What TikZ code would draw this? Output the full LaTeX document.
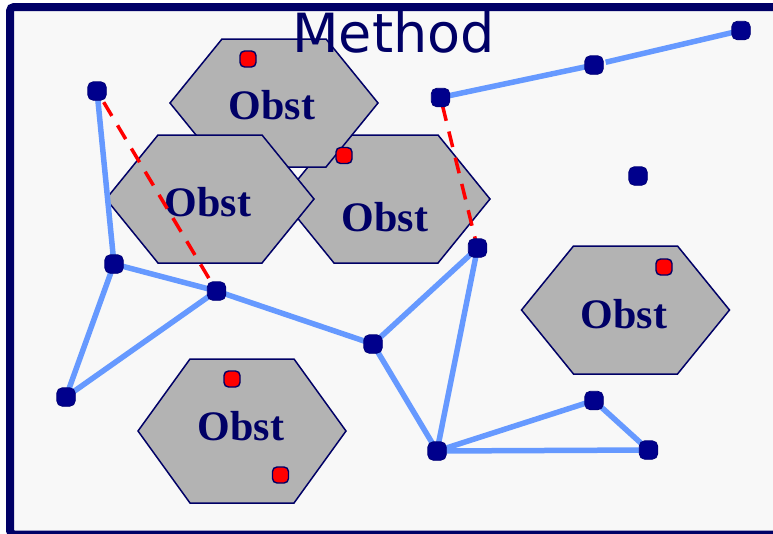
\documentclass[tikz,border=0pt]{standalone}
\usepackage{fontspec}
\newfontfamily\titlefont{DejaVu Sans}
\newfontfamily\obstfont{Liberation Serif}
\definecolor{framenavy}{RGB}{0,0,102}
\definecolor{nodenavy}{RGB}{0,0,140}
\definecolor{edgeblue}{RGB}{102,153,255}
\definecolor{obstgray}{RGB}{179,179,179}
\definecolor{paper}{RGB}{248,248,248}
\tikzset{
  obstacle/.style={fill=obstgray, draw=framenavy, line width=1.5pt, line join=miter},
  obstlabel/.style={anchor=base, inner sep=0pt, text=framenavy, font=\obstfont\bfseries\fontsize{42}{42}\selectfont},
  waypoint/.style={rectangle, rounded corners=5.5pt, minimum size=18.5pt, inner sep=0pt, fill=nodenavy, draw=nodenavy!85!black, line width=0.8pt},
  goalmark/.style={rectangle, rounded corners=4.5pt, minimum size=16pt, inner sep=0pt, fill=red, draw=framenavy, line width=1.4pt},
  link/.style={edgeblue, line width=5.5pt},
  blocked/.style={red, line width=3.5pt, dash pattern=on 16pt off 11pt},
}
% flat-topped hexagon: centre (#1,#2), half-width 104, half-height #3
\newcommand\obsthex[3]{%
  \draw[obstacle, shift={(#1,#2)}] (-104,0) -- (-52,-#3) -- (52,-#3) -- (104,0) -- (52,#3) -- (-52,#3) -- cycle;}
\begin{document}
\begin{tikzpicture}[x=1pt, y=-1pt]
\useasboundingbox (0,0) rectangle (773,533);
% frame
\fill[white] (0,0) rectangle (773,533);
\draw[framenavy, fill=paper, line width=8pt, rounded corners=4pt] (10,7) rectangle (790,534.5);

% obstacles (stacking order matters where they overlap)
\obsthex{386}{199}{64}
\obsthex{274}{103}{64}
\obsthex{210}{199}{64}
\obsthex{625.5}{310}{64}
\obsthex{242}{431}{72}
\node[obstlabel] (t1) at (272,119) {Obst};
\node[obstlabel] (t2) at (208,216) {Obst};
\node[obstlabel] (t3) at (385,231) {Obst};
\node[obstlabel] (t4) at (624,328) {Obst};
\node[obstlabel] (t5) at (241,440) {Obst};

% goal markers
\node[goalmark] (r1) at (248,59) {};
\node[goalmark] (r2) at (344,155.5) {};
\node[goalmark] (r3) at (232,379) {};
\node[goalmark] (r4) at (280.5,475) {};
\node[goalmark] (r5) at (664,267) {};

% waypoints
\coordinate (pA) at (97,91);
\coordinate (pB) at (114,264);
\coordinate (pC) at (216.5,291);
\coordinate (pD) at (66,397);
\coordinate (pE) at (373,344);
\coordinate (pF) at (477.5,248);
\coordinate (pG) at (440.5,97.5);
\coordinate (pH) at (594,65);
\coordinate (pI) at (741,30.5);
\coordinate (pJ) at (638,176);
\coordinate (pK) at (437,451);
\coordinate (pL) at (594,400.5);
\coordinate (pM) at (648.5,450);

% roadmap links
\draw[link] (pA) -- (pB);
\draw[link] (pB) -- (pD);
\draw[link] (pB) -- (pC);
\draw[link] (pD) -- (pC);
\draw[link] (pC) -- (pE);
\draw[link] (pE) -- (pF);
\draw[link] (pE) -- (pK);
\draw[link] (pF) -- (pK);
\draw[link] (pK) -- (pL);
\draw[link] (pL) -- (pM);
\draw[link] (pK) -- (pM);
\draw[link] (pG) -- (pH);
\draw[link, shorten <=12pt] (pH) -- (pI);

% colliding links
\draw[blocked, dash phase=-4pt, shorten <=9pt] (pA) -- (pC);
\draw[blocked, shorten <=8pt] (pG) -- (pF);

\foreach \n in {A,B,C,D,E,F,G,H,I,J,K,L,M}
  \node[waypoint] (\n) at (p\n) {};

% title
\node[anchor=base, inner sep=0pt, text=framenavy, font=\titlefont\fontsize{54}{54}\selectfont] (title) at (393.5,52) {Method};
\end{tikzpicture}
\end{document}
